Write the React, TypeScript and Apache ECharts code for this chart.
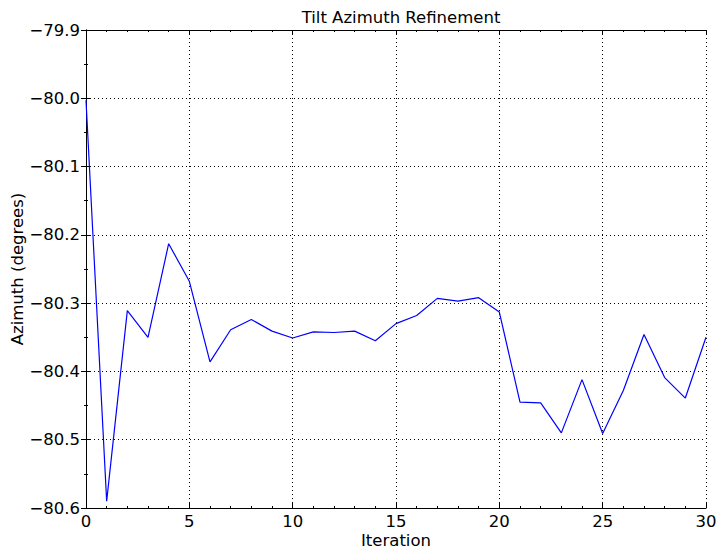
import React, { useEffect, useRef } from "react";
import * as echarts from "echarts";

const iterations = [0,1,2,3,4,5,6,7,8,9,10,11,12,13,14,15,16,17,18,19,20,21,22,23,24,25,26,27,28,29,30];
const azimuth = [
  -80.003, -80.590, -80.311, -80.350, -80.213, -80.268, -80.386, -80.339, -80.324, -80.341,
  -80.351, -80.342, -80.343, -80.341, -80.355, -80.330, -80.318, -80.293, -80.297, -80.292,
  -80.313, -80.445, -80.446, -80.490, -80.412, -80.491, -80.428, -80.346, -80.409, -80.439,
  -80.350,
];
const titleText = "Tilt Azimuth Refinement";
const xName = "Iteration";
const yName = "Azimuth (degrees)";

const FONT = "DejaVu Sans";
const FS = 16.5;

export default function App() {
  const ref = useRef<HTMLDivElement>(null);
  useEffect(() => {
    if (!ref.current) return;
    const chart = echarts.init(ref.current, null, { renderer: "svg" });
    const axisLine = { show: true, lineStyle: { color: "#000", width: 1 } };
    const grid = { show: true, lineStyle: { color: "#000", type: [1, 3], width: 1 } };
    chart.setOption({
      animation: false,
      backgroundColor: "#fff",
      title: {
        text: titleText,
        left: 396,
        textAlign: "center",
        top: 4,
        textStyle: { fontFamily: FONT, fontSize: FS, fontWeight: "normal", color: "#000" },
      },
      grid: { left: 86, right: 19, top: 30, bottom: 47, containLabel: false, outerBoundsMode: "none" },
      xAxis: [
        {
          type: "value",
          min: 0,
          max: 30,
          interval: 5,
          name: xName,
          nameLocation: "middle",
          nameGap: 24,
          nameMoveOverlap: false,
          nameTextStyle: { fontFamily: FONT, fontSize: FS, color: "#000" },
          axisLine,
          axisTick: { show: true, inside: true, length: 5, lineStyle: { color: "#000" } },
          minorTick: { show: true, splitNumber: 5, length: 2, lineStyle: { color: "#000" } },
          axisLabel: { fontFamily: FONT, fontSize: FS, color: "#000", margin: 5 },
          splitLine: grid,
        },
        {
          type: "value",
          position: "top",
          min: 0,
          max: 30,
          interval: 5,
          axisLine,
          axisTick: { show: true, inside: true, length: 5, lineStyle: { color: "#000" } },
          minorTick: { show: true, splitNumber: 5, length: 2, lineStyle: { color: "#000" } },
          axisLabel: { show: false },
          splitLine: { show: false },
        },
      ],
      yAxis: [
        {
          type: "value",
          min: -80.6,
          max: -79.9,
          interval: 0.1,
          name: yName,
          nameLocation: "middle",
          nameGap: 60,
          nameMoveOverlap: false,
          nameTextStyle: { fontFamily: FONT, fontSize: FS, color: "#000" },
          axisLine,
          axisTick: { show: true, inside: true, length: 5, lineStyle: { color: "#000" } },
          minorTick: { show: true, splitNumber: 2, length: 2, lineStyle: { color: "#000" } },
          axisLabel: {
            fontFamily: FONT,
            fontSize: FS,
            color: "#000",
            margin: 6,
            formatter: (v: number) => v.toFixed(1).replace("-", "\u2212"),
          },
          splitLine: grid,
        },
        {
          type: "value",
          position: "right",
          min: -80.6,
          max: -79.9,
          interval: 0.1,
          axisLine,
          axisTick: { show: true, inside: true, length: 5, lineStyle: { color: "#000" } },
          minorTick: { show: true, splitNumber: 2, length: 2, lineStyle: { color: "#000" } },
          axisLabel: { show: false },
          splitLine: { show: false },
        },
      ],
      series: [
        {
          type: "line",
          data: iterations.map((x, i) => [x, azimuth[i]]),
          showSymbol: false,
          symbol: "none",
          lineStyle: { color: "#0000ff", width: 1.2 },
        },
      ],
    });
    return () => chart.dispose();
  }, []);
  return <div ref={ref} style={{ width: 725, height: 555, position: "absolute", left: 0, top: 0 }} />;
}
